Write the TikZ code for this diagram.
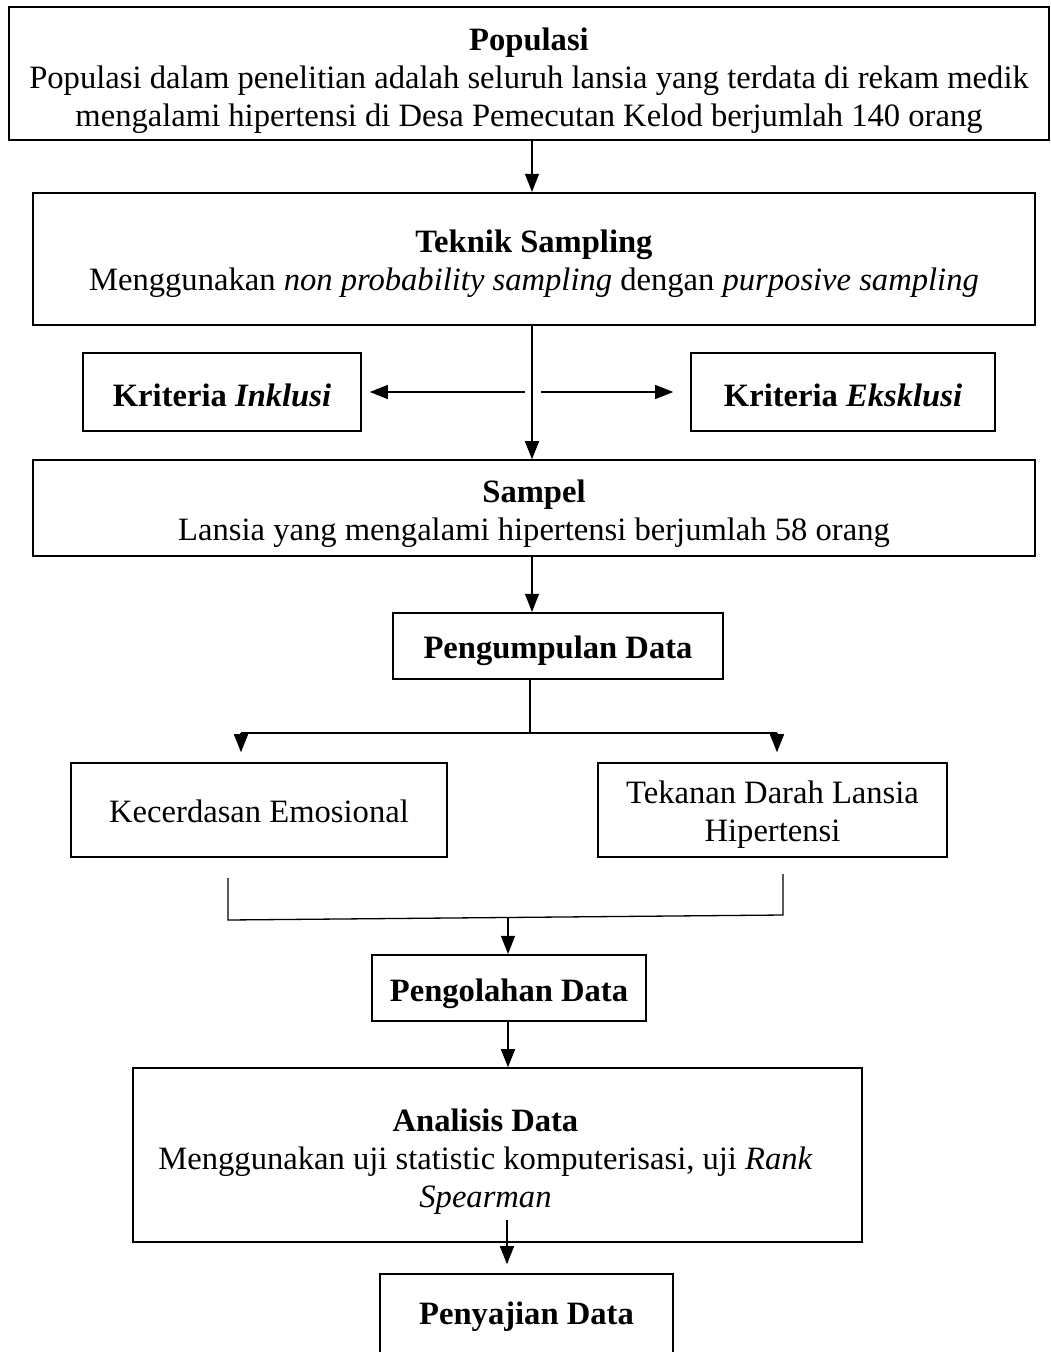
\documentclass[tikz,border=0pt]{standalone}
\usepackage{fontspec}
\setmainfont{Liberation Serif}
\usetikzlibrary{arrows.meta,calc}
\begin{document}
\begin{tikzpicture}[x=1pt,y=-1pt,
  box/.style={draw,line width=2.2pt,inner sep=0pt},
  thinbox/.style={box,line width=1.6pt},
  txt/.style={inner sep=0pt,align=center,font=\fontsize{32.6}{38}\selectfont},
  arr/.style={line width=1.3pt,-{Triangle[width=14pt,length=18pt]}},
  ln/.style={line width=1.3pt}]
\useasboundingbox (0,0) rectangle (1050,1352);

% boxes
\node[box,minimum width=1040,minimum height=133] (pop) at (529,73.5) {};
\node[box,minimum width=1002,minimum height=132] (tek) at (534,259) {};
\node[thinbox,minimum width=278,minimum height=78] (ink) at (222,392) {};
\node[thinbox,minimum width=304,minimum height=78] (eks) at (843,392) {};
\node[thinbox,minimum width=1002,minimum height=96] (sam) at (534,508) {};
\node[box,minimum width=330,minimum height=66] (pgd) at (558,646) {};
\node[thinbox,minimum width=376,minimum height=94] (kec) at (259,810) {};
\node[thinbox,minimum width=349,minimum height=94] (tkd) at (772.5,810) {};
\node[box,minimum width=274,minimum height=66] (pol) at (509,988) {};
\node[thinbox,minimum width=729,minimum height=174] (ana) at (497.5,1155) {};
\node[thinbox,minimum width=293,minimum height=80] (pen) at (526.5,1314) {};

% texts
\node[txt] (popt) at ($(pop)+(0,7)$)
  {\textbf{Populasi}\\Populasi dalam penelitian adalah seluruh lansia yang terdata di rekam medik\\mengalami hipertensi di Desa Pemecutan Kelod berjumlah 140 orang};
\node[txt] (tekt) at ($(tek)+(0,5)$)
  {\textbf{Teknik Sampling}\\Menggunakan \textit{non probability sampling} dengan \textit{purposive sampling}};
\node[txt] (inkt) at ($(ink)+(0,3)$) {\textbf{Kriteria \textit{Inklusi}}};
\node[txt] (ekst) at ($(eks)+(0,3)$) {\textbf{Kriteria \textit{Eksklusi}}};
\node[txt] (samt) at ($(sam)+(0,6)$)
  {\textbf{Sampel}\\Lansia yang mengalami hipertensi berjumlah 58 orang};
\node[txt] (pgdt) at ($(pgd)+(0,5)$) {\textbf{Pengumpulan Data}};
\node[txt] (kect) at ($(kec)+(0,1)$) {Kecerdasan Emosional};
\node[txt] (tkdt) at ($(tkd)+(0,5)$) {Tekanan Darah Lansia\\Hipertensi};
\node[txt] (polt) at ($(pol)+(0,6)$) {\textbf{Pengolahan Data}};
\node[txt] (anat) at ($(ana)+(-12,7)$)
  {\textbf{Analisis Data}\\Menggunakan uji statistic komputerisasi, uji \textit{Rank}\\\textit{Spearman}};
\node[txt] (pent) at ($(pen)+(0,3)$) {\textbf{Penyajian Data}};

% connectors
\coordinate (c1) at (532,0);
\draw[arr] (pop.south -| c1) -- (tek.north -| c1);
\draw[arr] (tek.south -| c1) -- (sam.north -| c1);
\coordinate (hl) at (525,392);
\coordinate (hr) at (541,392);
\draw[arr] (hl) -- ($(ink.east)+(8,0)$);
\draw[arr] (hr) -- ($(eks.west)+(-17,0)$);
\draw[arr] (sam.south -| c1) -- (pgd.north -| c1);

\coordinate (c2) at (530,733);
\coordinate (bl) at (241,733);
\coordinate (br) at (777,733);
\draw[ln] (pgd.south -| c2) -- (c2);
\draw[ln] (bl) -- (br);
\draw[arr] (bl) -- ($(bl |- kec.north)+(0,-10)$);
\draw[arr] (br) -- ($(br |- tkd.north)+(0,-10)$);

\coordinate (ml1) at (228,878);
\coordinate (ml2) at (228,920);
\coordinate (mr2) at (783,915);
\coordinate (mr1) at (783,874);
\draw[ln] (ml1) -- (ml2) -- (mr2) -- (mr1);
\coordinate (m) at (508,918);
\draw[arr] (m) -- (m |- pol.north);

\draw[arr] (pol.south -| m) -- (ana.north -| m);
\coordinate (a1) at (507,1220);
\draw[arr] (a1) -- ($(a1 |- pen.north)+(0,-9)$);
\end{tikzpicture}
\end{document}
